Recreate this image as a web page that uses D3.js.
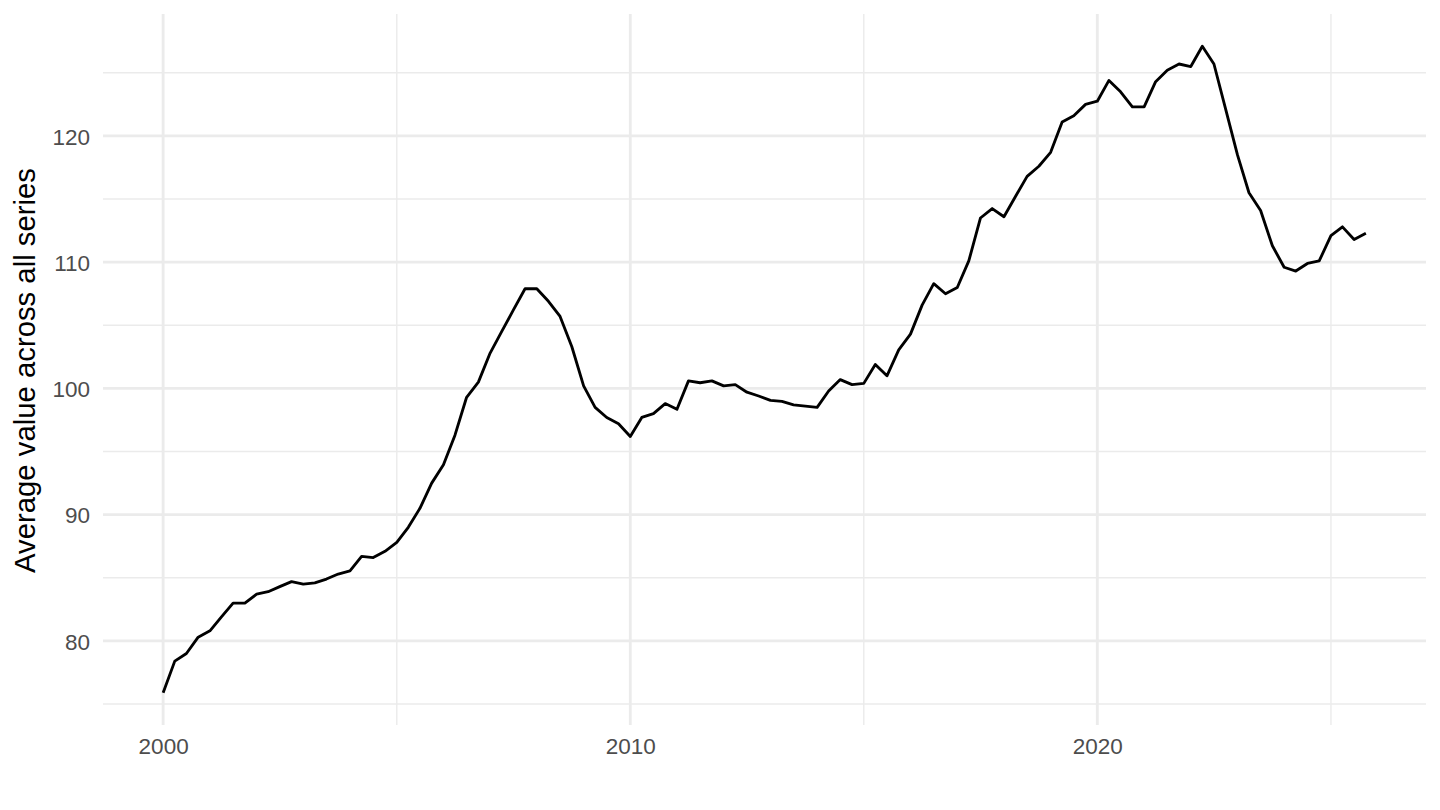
<!DOCTYPE html>
<html><head><meta charset="utf-8">
<script src="https://cdn.jsdelivr.net/npm/d3@7"></script>
<style>html,body{margin:0;padding:0;background:#fff}</style>
</head><body>
<svg id="chart" width="1440" height="810"></svg>
<script>
const quarters = [
"2000-01-01","2000-04-01","2000-07-01","2000-10-01",
"2001-01-01","2001-04-01","2001-07-01","2001-10-01",
"2002-01-01","2002-04-01","2002-07-01","2002-10-01",
"2003-01-01","2003-04-01","2003-07-01","2003-10-01",
"2004-01-01","2004-04-01","2004-07-01","2004-10-01",
"2005-01-01","2005-04-01","2005-07-01","2005-10-01",
"2006-01-01","2006-04-01","2006-07-01","2006-10-01",
"2007-01-01","2007-04-01","2007-07-01","2007-10-01",
"2008-01-01","2008-04-01","2008-07-01","2008-10-01",
"2009-01-01","2009-04-01","2009-07-01","2009-10-01",
"2010-01-01","2010-04-01","2010-07-01","2010-10-01",
"2011-01-01","2011-04-01","2011-07-01","2011-10-01",
"2012-01-01","2012-04-01","2012-07-01","2012-10-01",
"2013-01-01","2013-04-01","2013-07-01","2013-10-01",
"2014-01-01","2014-04-01","2014-07-01","2014-10-01",
"2015-01-01","2015-04-01","2015-07-01","2015-10-01",
"2016-01-01","2016-04-01","2016-07-01","2016-10-01",
"2017-01-01","2017-04-01","2017-07-01","2017-10-01",
"2018-01-01","2018-04-01","2018-07-01","2018-10-01",
"2019-01-01","2019-04-01","2019-07-01","2019-10-01",
"2020-01-01","2020-04-01","2020-07-01","2020-10-01",
"2021-01-01","2021-04-01","2021-07-01","2021-10-01",
"2022-01-01","2022-04-01","2022-07-01","2022-10-01",
"2023-01-01","2023-04-01","2023-07-01","2023-10-01",
"2024-01-01","2024-04-01","2024-07-01","2024-10-01",
"2025-01-01","2025-04-01","2025-07-01","2025-10-01"
];
const values = [
75.9, 78.4, 79.0, 80.3,
80.8, 81.9, 83.0, 83.0,
83.7, 83.9, 84.3, 84.7,
84.5, 84.6, 84.9, 85.3,
85.55, 86.7, 86.6, 87.1,
87.8, 89.0, 90.5, 92.5,
93.95, 96.3, 99.3, 100.5,
102.8, 104.5, 106.2, 107.9,
107.9, 106.9, 105.7, 103.3,
100.2, 98.5, 97.7, 97.2,
96.2, 97.7, 98.0, 98.8,
98.35, 100.6, 100.45, 100.6,
100.2, 100.3, 99.7, 99.4,
99.05, 98.97, 98.7, 98.6,
98.5, 99.8, 100.7, 100.3,
100.4, 101.9, 101.0, 103.05,
104.3, 106.6, 108.3, 107.5,
108.0, 110.1, 113.5, 114.25,
113.6, 115.2, 116.8, 117.6,
118.7, 121.1, 121.6, 122.5,
122.75, 124.4, 123.5, 122.3,
122.3, 124.3, 125.2, 125.7,
125.5, 127.1, 125.7, 122.1,
118.5, 115.5, 114.1, 111.3,
109.6, 109.3, 109.9, 110.1,
112.1, 112.8, 111.8, 112.3
];
const xMajorTicks = ["2000-01-01", "2010-01-01", "2020-01-01"];
const xMajorLabels = ["2000", "2010", "2020"];
const xMinorTicks = ["2005-01-01", "2015-01-01", "2025-01-01"];
const yMajorTicks = [80, 90, 100, 110, 120];
const yMinorTicks = [75, 85, 95, 105, 115, 125];
const yTitle = "Average value across all series";

const parse = d3.utcParse("%Y-%m-%d");
const data = quarters.map((q, i) => ({date: parse(q), value: values[i]}));

const panel = {left: 103, right: 1426, top: 14, bottom: 725};
const font = "'Liberation Sans', Arial, Helvetica, sans-serif";

const xExt = d3.extent(data, d => +d.date);
const xPad = (xExt[1] - xExt[0]) * 0.05;
const x = d3.scaleUtc()
  .domain([new Date(xExt[0] - xPad), new Date(xExt[1] + xPad)])
  .range([panel.left, panel.right]);

const yExt = d3.extent(data, d => d.value);
const yPad = (yExt[1] - yExt[0]) * 0.05;
const y = d3.scaleLinear()
  .domain([yExt[0] - yPad, yExt[1] + yPad])
  .range([panel.bottom, panel.top]);

const svg = d3.select("#chart");
svg.append("rect").attr("width", 1440).attr("height", 810).attr("fill", "#fff");

const grid = svg.append("g");
grid.selectAll(".ymin").data(yMinorTicks).join("line")
  .attr("x1", panel.left).attr("x2", panel.right)
  .attr("y1", d => y(d)).attr("y2", d => y(d))
  .attr("stroke", "#ebebeb").attr("stroke-width", 1.42);
grid.selectAll(".xmin").data(xMinorTicks.map(parse)).join("line")
  .attr("y1", panel.top).attr("y2", panel.bottom)
  .attr("x1", d => x(d)).attr("x2", d => x(d))
  .attr("stroke", "#ebebeb").attr("stroke-width", 1.42);
grid.selectAll(".ymaj").data(yMajorTicks).join("line")
  .attr("x1", panel.left).attr("x2", panel.right)
  .attr("y1", d => y(d)).attr("y2", d => y(d))
  .attr("stroke", "#ebebeb").attr("stroke-width", 2.84);
grid.selectAll(".xmaj").data(xMajorTicks.map(parse)).join("line")
  .attr("y1", panel.top).attr("y2", panel.bottom)
  .attr("x1", d => x(d)).attr("x2", d => x(d))
  .attr("stroke", "#ebebeb").attr("stroke-width", 2.84);

const yAxis = d3.axisLeft(y).tickValues(yMajorTicks).tickSize(0).tickPadding(13).tickFormat(d3.format("d"));
const yg = svg.append("g").attr("transform", `translate(${panel.left},0)`).call(yAxis);
yg.select(".domain").remove();
yg.selectAll("text").attr("fill", "#4d4d4d").style("font-family", font).style("font-size", "22.5px").attr("dy", "0.36em");

const xAxis = d3.axisBottom(x).tickValues(xMajorTicks.map(parse)).tickSize(0).tickPadding(12.5)
  .tickFormat((d, i) => xMajorLabels[i]);
const xg = svg.append("g").attr("transform", `translate(0,${panel.bottom})`).call(xAxis);
xg.select(".domain").remove();
xg.selectAll("text").attr("fill", "#4d4d4d").style("font-family", font).style("font-size", "22.5px").attr("dy", "0.72em");

svg.append("text")
  .attr("transform", `translate(35,${(panel.top + panel.bottom) / 2 + 1}) rotate(-90)`)
  .attr("text-anchor", "middle")
  .attr("fill", "#000")
  .style("font-family", font).style("font-size", "29.3px")
  .text(yTitle);

const line = d3.line().x(d => x(d.date)).y(d => y(d.value));
svg.append("path").datum(data)
  .attr("d", line)
  .attr("fill", "none").attr("stroke", "#000").attr("stroke-width", 2.84)
  .attr("stroke-linejoin", "round").attr("stroke-linecap", "butt");
</script>
</body></html>
